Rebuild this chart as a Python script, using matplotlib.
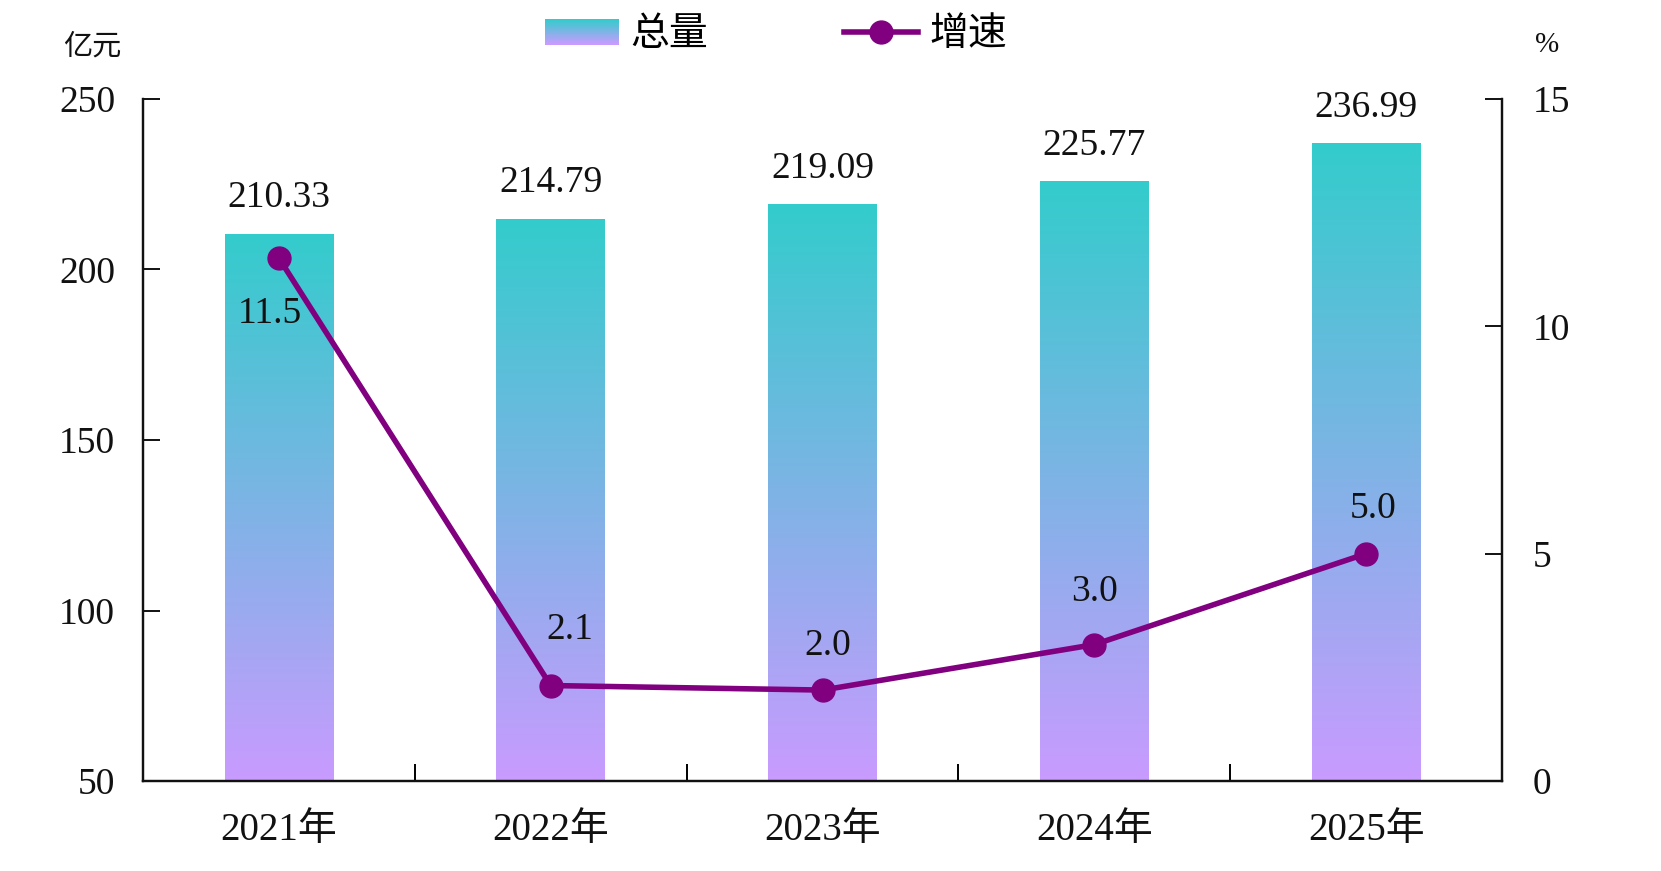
import matplotlib
matplotlib.use("Agg")
import matplotlib.pyplot as plt
import numpy as np
from matplotlib.colors import LinearSegmentedColormap
from matplotlib.lines import Line2D
from matplotlib.patches import Rectangle
from matplotlib.legend_handler import HandlerBase

# ================== DATA ==================
years = ["2021年", "2022年", "2023年", "2024年", "2025年"]
totals = [210.33, 214.79, 219.09, 225.77, 236.99]
growth = [11.5, 2.1, 2.0, 3.0, 5.0]

# ================== STYLE ==================
FONTS = ["Liberation Serif", "Noto Sans CJK SC", "DejaVu Sans"]
TOP_COLOR = "#33CCCC"
BOTTOM_COLOR = "#C99BFF"
LINE_COLOR = "#800080"
TEXT_COLOR = "#111111"
BAR_WIDTH = 0.4
NUM_SIZE = 27
# offsets (points) of growth labels from their markers
GROWTH_LABEL_DX = [-6.5, 14, 4, 0, 5]
GROWTH_LABEL_DY = [-40, 40, 32, 38, 32]

plt.rcParams["font.family"] = FONTS
plt.rcParams["axes.unicode_minus"] = False

grad_cmap = LinearSegmentedColormap.from_list("bar_grad", [BOTTOM_COLOR, TOP_COLOR])


class GradientPatchHandler(HandlerBase):
    """Legend handle drawn as a vertical gradient made of thin stripes."""

    def create_artists(self, legend, orig_handle, xdescent, ydescent,
                       width, height, fontsize, trans):
        n = 30
        artists = []
        for i in range(n):
            c = grad_cmap(i / (n - 1))
            r = Rectangle((-xdescent, -ydescent + height * i / n), width, height / n + 0.05,
                          facecolor=c, edgecolor="none", transform=trans)
            artists.append(r)
        return artists


fig = plt.figure(figsize=(16.61, 8.71), dpi=100)
ax = fig.add_axes([143 / 1661, 1 - 781 / 871, (1502 - 143) / 1661, (781 - 99) / 871])
ax2 = ax.twinx()

x = np.arange(len(years))
ymin, ymax = 50, 250

# gradient bars
grad = np.linspace(0, 1, 256).reshape(-1, 1)
for xi, v in zip(x, totals):
    ax.imshow(grad, cmap=grad_cmap, origin="lower", aspect="auto",
              extent=(xi - BAR_WIDTH / 2, xi + BAR_WIDTH / 2, ymin, v), zorder=1)
    ax.annotate(f"{v:.2f}", (xi, v), textcoords="offset points", xytext=(0, 26),
                ha="center", va="center", fontsize=NUM_SIZE, color=TEXT_COLOR)
ax.set_xlim(-0.5, len(years) - 0.5)
ax.set_ylim(ymin, ymax)

# growth line
ax2.plot(x, growth, color=LINE_COLOR, linewidth=4, marker="o", markersize=16.5, zorder=3)
ax2.set_ylim(0, 15)
for xi, g, dx, dy in zip(x, growth, GROWTH_LABEL_DX, GROWTH_LABEL_DY):
    ax2.annotate(f"{g:.1f}", (xi, g), textcoords="offset points", xytext=(dx, dy),
                 ha="center", va="center", fontsize=NUM_SIZE, color=TEXT_COLOR)

# axes styling
for a in (ax, ax2):
    a.spines["top"].set_visible(False)
    for s in ("left", "right", "bottom"):
        a.spines[s].set_linewidth(1.6)
        a.spines[s].set_color(TEXT_COLOR)

ax.set_yticks([50, 100, 150, 200, 250])
ax.tick_params(axis="y", direction="in", length=12, width=1.4, pad=20,
               labelsize=NUM_SIZE, colors=TEXT_COLOR)
ax2.set_yticks([0, 5, 10, 15])
ax2.tick_params(axis="y", direction="in", length=12, width=1.4, pad=22,
                labelsize=NUM_SIZE, colors=TEXT_COLOR)

ax.set_xticks(x[:-1] + 0.5)
ax.set_xticklabels([])
ax.set_xticks(x, minor=True)
ax.set_xticklabels(years, minor=True, fontsize=28)
ax.tick_params(axis="x", which="major", direction="in", length=12, width=1.4)
ax.tick_params(axis="x", which="minor", length=0, pad=22, colors=TEXT_COLOR)

# unit labels
fig.text(92 / 1661, 1 - 47 / 871, "亿元", ha="center", va="center", fontsize=21, color=TEXT_COLOR)
fig.text(1547 / 1661, 1 - 45 / 871, "%", ha="center", va="center", fontsize=21, color=TEXT_COLOR)

# legend
handles = [Rectangle((0, 0), 1, 1),
           Line2D([0], [0], color=LINE_COLOR, linewidth=4, marker="o", markersize=16.5)]
fig.legend(handles, ["总量", "增速"], loc="center", ncol=2,
           bbox_to_anchor=(776 / 1661, 1 - 36 / 871), frameon=False, fontsize=28,
           handlelength=1.9, handleheight=0.65, handletextpad=0.3, columnspacing=3.5,
           handler_map={Rectangle: GradientPatchHandler()})

fig.savefig("out.png", dpi=100)
